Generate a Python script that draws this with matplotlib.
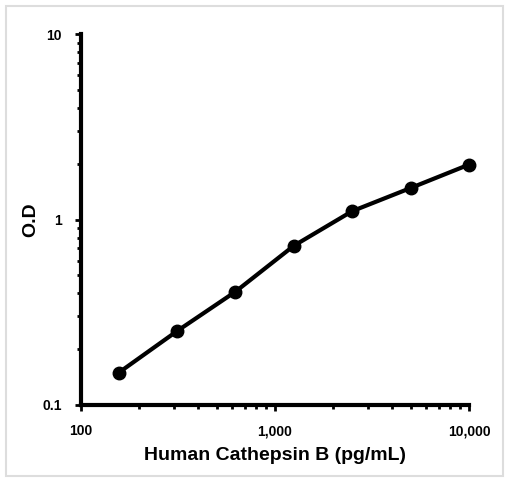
import matplotlib
matplotlib.use('Agg')
import matplotlib.pyplot as plt
from matplotlib.ticker import FixedLocator, FixedFormatter, NullFormatter
from matplotlib.patches import Rectangle

conc = [156.25, 312.5, 625, 1250, 2500, 5000, 10000]
od = [0.149, 0.25, 0.408, 0.722, 1.11, 1.48, 1.98]

xticks = [100, 1000, 10000]
xlabels = ['100', '1,000', '10,000']
yticks = [0.1, 1, 10]
ylabels = ['0.1', '1', '10']

plt.rcParams['font.family'] = ['Liberation Sans', 'DejaVu Sans']
plt.rcParams['font.weight'] = 'bold'

fig = plt.figure(figsize=(5.06, 4.82), dpi=100)
fig.patches.append(Rectangle((0.012, 0.012), 0.982, 0.975, transform=fig.transFigure,
                             fill=False, edgecolor='#dddddd', lw=1.5))
ax = fig.add_axes([0.160, 0.160, 0.767, 0.769])

ax.plot(conc, od, color='black', lw=3, marker='o', markersize=9, zorder=3, clip_on=False)

ax.set_xscale('log')
ax.set_yscale('log')
ax.set_xlim(100, 10000)
ax.set_ylim(0.1, 10)

ax.xaxis.set_major_locator(FixedLocator(xticks))
ax.xaxis.set_major_formatter(FixedFormatter(xlabels))
ax.xaxis.set_minor_formatter(NullFormatter())
ax.yaxis.set_major_locator(FixedLocator(yticks))
ax.yaxis.set_major_formatter(FixedFormatter(ylabels))
ax.yaxis.set_minor_formatter(NullFormatter())

for s in ['top', 'right']:
    ax.spines[s].set_visible(False)
for s in ['left', 'bottom']:
    ax.spines[s].set_linewidth(3)

ax.tick_params(axis='both', which='major', length=4, width=2, labelsize=10, pad=10)
ax.tick_params(axis='both', which='minor', length=3, width=2)

ax.set_xlabel('Human Cathepsin B (pg/mL)', fontsize=14, fontweight='bold', labelpad=6)
ax.set_ylabel('O.D', fontsize=14, fontweight='bold', labelpad=2)

fig.savefig('out.png', dpi=100)
